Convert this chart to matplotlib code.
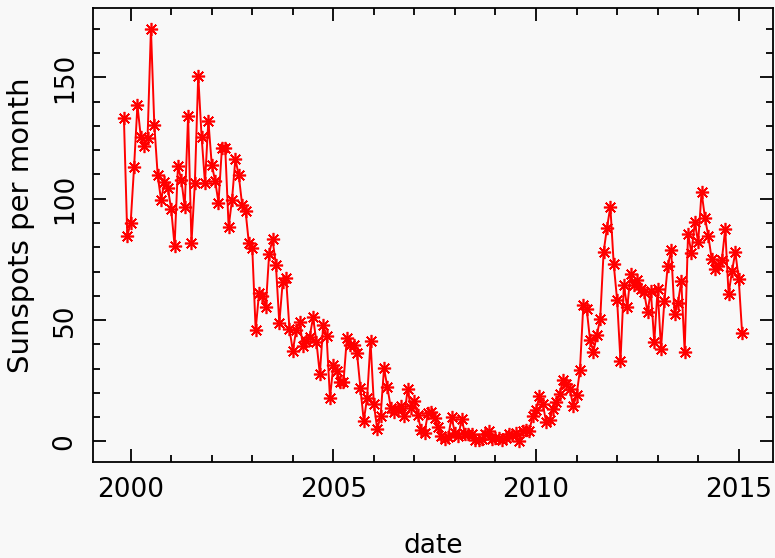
import pandas as pd
import matplotlib
matplotlib.use("Agg")
import matplotlib.pyplot as plt
from matplotlib.ticker import MultipleLocator, FuncFormatter

# monthly sunspot numbers, Nov 1999 .. Feb 2015
start = "1999-11-01"
ssn_1999 = [133.2, 84.6]
ssn_2000 = [90.1, 112.9, 138.5, 125.5, 121.6, 124.9, 170.1, 130.5, 109.7, 99.4, 106.8, 104.4]
ssn_2001 = [95.6, 80.6, 113.5, 107.7, 96.6, 134.0, 81.8, 106.4, 150.7, 125.5, 106.5, 132.2]
ssn_2002 = [114.1, 107.4, 98.4, 120.7, 120.8, 88.3, 99.6, 116.4, 109.6, 97.5, 95.0, 81.6]
ssn_2003 = [79.5, 46.0, 61.1, 60.0, 55.2, 77.4, 83.3, 72.7, 48.7, 65.5, 67.3, 46.5]
ssn_2004 = [37.3, 45.8, 49.1, 39.3, 41.5, 43.2, 51.1, 40.9, 27.7, 48.0, 43.5, 17.9]
ssn_2005 = [31.3, 29.2, 24.5, 24.4, 42.6, 39.6, 39.9, 36.4, 22.1, 8.5, 18.0, 41.2]
ssn_2006 = [15.3, 4.9, 10.6, 30.2, 22.3, 13.9, 12.2, 12.9, 14.4, 10.5, 21.4, 13.6]
ssn_2007 = [16.8, 10.7, 4.5, 3.4, 11.7, 12.1, 9.7, 6.0, 2.4, 0.9, 1.7, 10.1]
ssn_2008 = [3.3, 2.1, 9.3, 2.9, 2.9, 3.1, 0.5, 0.5, 1.1, 2.9, 4.1, 0.8]
ssn_2009 = [1.5, 1.4, 0.7, 1.2, 2.9, 2.6, 3.5, 0.0, 4.4, 4.6, 4.2, 10.6]
ssn_2010 = [13.1, 18.6, 15.4, 7.9, 8.8, 13.5, 16.1, 19.6, 25.2, 23.5, 21.6, 14.5]
ssn_2011 = [19.0, 29.4, 56.2, 54.4, 41.6, 37.0, 43.9, 50.6, 78.0, 88.0, 96.7, 73.0]
ssn_2012 = [58.3, 33.1, 64.3, 55.2, 69.0, 64.5, 66.5, 63.0, 61.4, 53.3, 61.8, 40.8]
ssn_2013 = [62.9, 38.1, 57.9, 72.4, 78.7, 52.5, 57.0, 66.0, 37.0, 85.6, 77.6, 90.3]
ssn_2014 = [82.0, 102.8, 92.2, 84.7, 75.2, 71.0, 72.4, 74.6, 87.6, 60.6, 70.1, 78.0]
ssn_2015 = [67.0, 44.8]

ssn = (ssn_1999 + ssn_2000 + ssn_2001 + ssn_2002 + ssn_2003 + ssn_2004 + ssn_2005
       + ssn_2006 + ssn_2007 + ssn_2008 + ssn_2009 + ssn_2010 + ssn_2011 + ssn_2012
       + ssn_2013 + ssn_2014 + ssn_2015)
dates = pd.date_range(start, periods=len(ssn), freq="MS")
# decimal year for the x axis
year = dates.year + (dates.month - 1) / 12.0

BG = "#f8f8f8"
FS = 19

plt.rcParams["font.family"] = ["DejaVu Sans"]
fig = plt.figure(figsize=(7.75, 5.58), dpi=100, facecolor=BG)
ax = fig.add_axes([93 / 775, 1 - 462 / 558, 680 / 775, 454 / 558])
ax.set_facecolor(BG)

ax.plot(year, ssn, color="red", lw=1.4, marker=(8, 2, 0), ms=9.5, mew=1.2)
ax.margins(0.05)

ax.xaxis.set_major_locator(MultipleLocator(5))
ax.xaxis.set_minor_locator(MultipleLocator(1))
ax.xaxis.set_major_formatter(FuncFormatter(lambda v, p: "%d" % round(v)))
ax.yaxis.set_major_locator(MultipleLocator(50))
ax.yaxis.set_minor_locator(MultipleLocator(10))

ax.tick_params(which="both", direction="in", top=True, right=True, width=1.3,
               labelsize=FS, colors="black")
ax.tick_params(which="major", length=9.5)
ax.tick_params(which="minor", length=5)
ax.tick_params(axis="y", pad=11, labelrotation=90)
ax.tick_params(axis="x", pad=11)
for lab in ax.get_yticklabels():
    lab.set_va("center")
for s in ax.spines.values():
    s.set_linewidth(1.3)

fig.text(21 / 775, 1 - 225 / 558, "Sunspots per month", rotation=90,
         ha="center", va="center", fontsize=FS + 2)
fig.text(433 / 775, 1 - 546 / 558, "date", ha="center", va="center", fontsize=FS)

fig.savefig("out.png", dpi=100, facecolor=BG)
